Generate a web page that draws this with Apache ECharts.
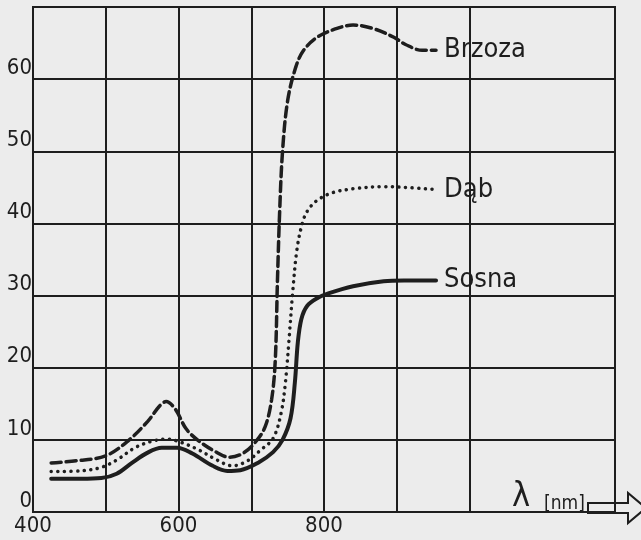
<!DOCTYPE html>
<html>
<head>
<meta charset="utf-8">
<script src="https://cdn.jsdelivr.net/npm/echarts@6/dist/echarts.min.js"></script>
<style>
  html, body { margin: 0; padding: 0; background: #ececec; }
  #chart { width: 641px; height: 540px; }
</style>
</head>
<body>
<div id="chart"></div>
<script>
// dane: [dlugosc fali nm, odbicie %]
var brzoza = [[425, 6.8], [460, 7.1], [500, 7.8], [530, 9.8], [558, 12.6], [574, 14.7], [583, 15.3],
    [596, 14.2], [610, 11.6], [626, 10], [650, 8.4], [670, 7.6], [688, 8.1], [705, 9.6], [719, 11.8],
    [728, 15.6], [733, 21], [736, 32], [739, 41.5], [743, 50], [750, 57], [761, 61.6], [772, 64],
    [792, 65.9], [820, 67.1], [840, 67.5], [868, 67], [896, 65.8], [912, 64.8], [935, 64], [954, 64]];
var dab = [[425, 5.6], [466, 5.7], [494, 6.2], [515, 7.2], [540, 8.9], [563, 9.8], [584, 10.1],
    [605, 9.6], [628, 8.6], [653, 7.2], [674, 6.4], [695, 7.1], [713, 8.6], [730, 10.2], [741, 13.7],
    [747, 18], [752, 24], [757, 30.5], [763, 36.5], [771, 40.3], [779, 42], [792, 43.3],
    [813, 44.3], [840, 44.8], [882, 45.1], [910, 45], [954, 44.7]];
var sosna = [[425, 4.6], [466, 4.6], [494, 4.7], [515, 5.3], [536, 6.8], [557, 8.2], [577, 8.9],
    [598, 8.9], [619, 8.1], [647, 6.4], [667, 5.7], [685, 5.8], [709, 6.8], [730, 8.3], [743, 10],
    [754, 13], [760, 18], [764, 23.5], [769, 26.8], [777, 28.6], [790, 29.6], [806, 30.3],
    [840, 31.3], [882, 32], [910, 32.1], [954, 32.1]];
var xLabels = [400, 600, 800];
var yLabels = [0, 10, 20, 30, 40, 50, 60];

var ink = '#1e1e1e';
var font = '"DejaVu Sans Condensed", "DejaVu Sans", sans-serif';

var chart = echarts.init(document.getElementById('chart'));

function seria(name, data, type, width) {
    return {
        name: name,
        type: 'line',
        data: data,
        smooth: 0.35,
        showSymbol: false,
        symbol: 'none',
        lineStyle: { color: ink, width: width, type: type, cap: 'round' },
        endLabel: {
            show: true,
            formatter: '{a}',
            distance: 8,
            color: ink,
            fontSize: 27,
            fontFamily: font
        }
    };
}

var option = {
    backgroundColor: '#ececec',
    animation: false,
    grid: { left: 33, right: 26, top: 7, bottom: 28, show: true, borderColor: ink, borderWidth: 2 },
    xAxis: {
        type: 'value',
        min: 400,
        max: 1200,
        interval: 100,
        axisLine: { show: false },
        axisTick: { show: false },
        axisLabel: {
            color: ink, fontSize: 22, fontFamily: font, margin: 3,
            formatter: function (v) { return xLabels.indexOf(v) >= 0 ? String(v) : ''; }
        },
        splitLine: {
            lineStyle: {
                width: 2,
                color: [ink, ink, ink, ink, ink, ink, ink, 'rgba(0,0,0,0)', ink]
            }
        }
    },
    yAxis: {
        type: 'value',
        min: 0,
        max: 70,
        interval: 10,
        axisLine: { show: false },
        axisTick: { show: false },
        axisLabel: {
            color: ink, fontSize: 22, fontFamily: font, margin: 1, verticalAlign: 'bottom',
            formatter: function (v) { return yLabels.indexOf(v) >= 0 ? String(v) : ''; }
        },
        splitLine: { lineStyle: { width: 2, color: ink } }
    },
    series: [
        seria('Brzoza', brzoza, [10, 5], 3.5),
        seria('Dąb', dab, [0.1, 6.5], 3.5),
        seria('Sosna', sosna, 'solid', 4)
    ],
    graphic: [
        { type: 'text', left: 512, top: 480, style: { text: 'λ', fontSize: 34, fontFamily: font, fill: ink } },
        { type: 'text', left: 544, top: 495, style: { text: '[nm]', fontSize: 19, fontFamily: font, fill: ink } },
        {
            type: 'polygon',
            shape: { points: [[588, 503], [628, 503], [628, 493], [646, 508], [628, 523], [628, 513], [588, 513]] },
            style: { fill: '#ececec', stroke: ink, lineWidth: 2 }
        }
    ]
};
chart.setOption(option);
</script>
</body>
</html>
